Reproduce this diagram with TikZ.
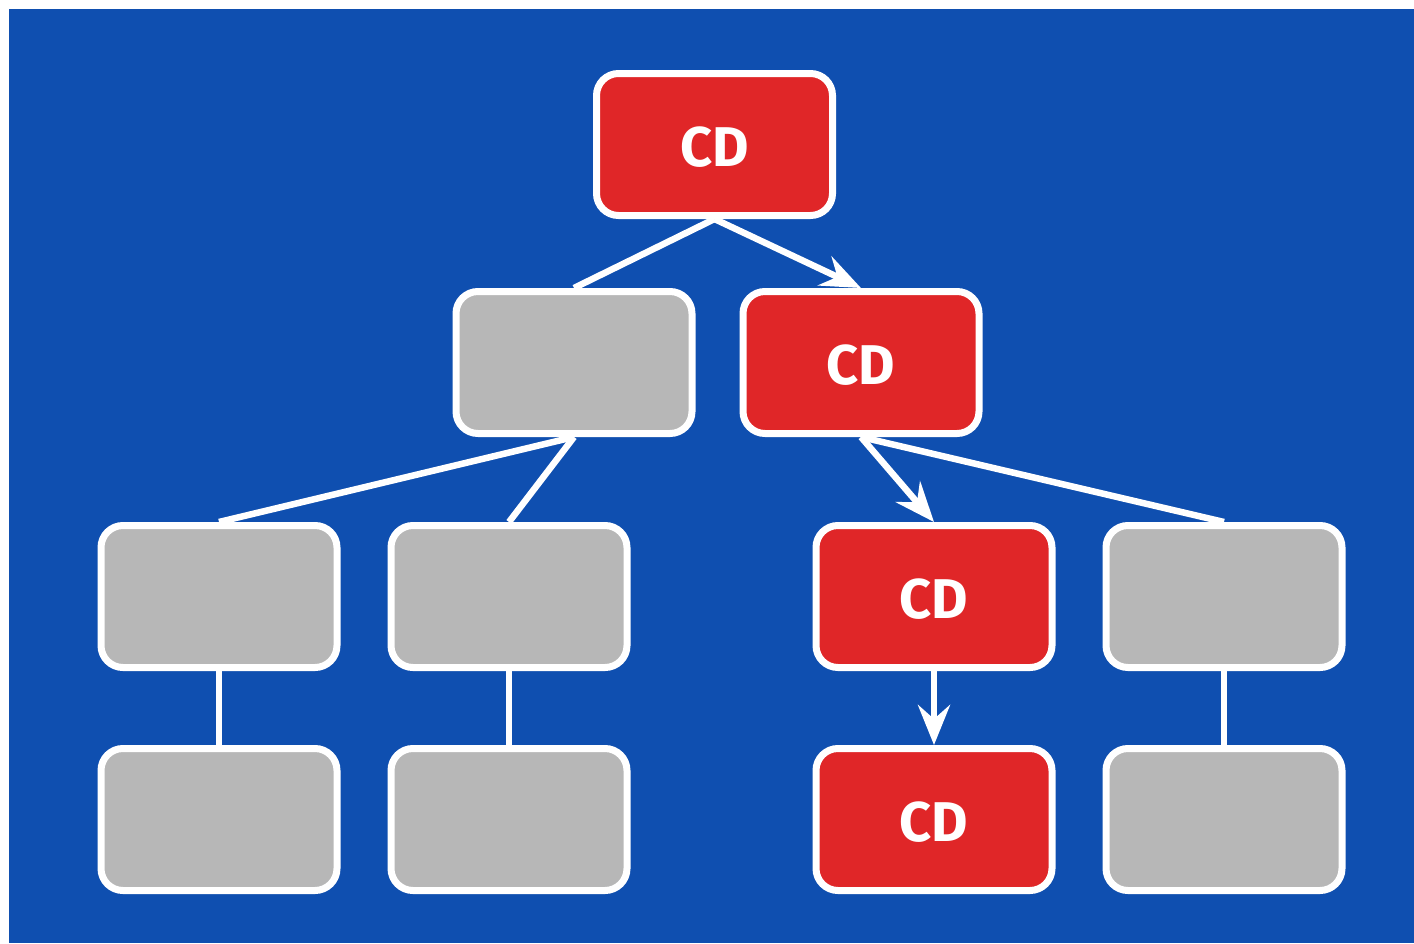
\documentclass[tikz,border=0pt]{standalone}
\usepackage{fontspec}
\setmainfont{Fira Sans}
\usetikzlibrary{arrows.meta}
\definecolor{bgblue}{HTML}{0F4FB0}
\definecolor{cdred}{HTML}{E02628}
\definecolor{boxgray}{HTML}{B7B7B7}
\newcommand{\cdlabel}{\raisebox{-21.5pt}[0pt][0pt]{CD}}
\tikzset{
  box/.style={draw=white, line width=7pt, rounded corners=22pt, minimum width=236pt, minimum height=142pt, inner sep=0pt},
  redbox/.style={box, fill=cdred, text=white, font=\fontsize{56}{60}\selectfont\bfseries},
  graybox/.style={box, fill=boxgray},
  conn/.style={draw=white, line width=6.5pt},
  arr/.style={conn, -{Stealth[length=40pt, width=32pt, inset=14pt]}}
}
\begin{document}
\begin{tikzpicture}[x=1pt, y=-1pt]
\useasboundingbox (0,0) rectangle (1414,943);
\fill[white] (0,0) rectangle (1414,943);
\fill[bgblue] (9,9) rectangle (1414,943);
\node[redbox] (top) at (714.5,144.5) {\cdlabel};
\node[graybox] (g2) at (574,362.5) {};
\node[redbox] (r2) at (861,362.5) {\cdlabel};
\node[graybox] (g3a) at (219,596.5) {};
\node[graybox] (g3b) at (509,596.5) {};
\node[redbox] (r3) at (934,596.5) {\cdlabel};
\node[graybox] (g3d) at (1224,596.5) {};
\node[graybox] (g4a) at (219,819.5) {};
\node[graybox] (g4b) at (509,819.5) {};
\node[redbox] (r4) at (934,819.5) {\cdlabel};
\node[graybox] (g4d) at (1224,819.5) {};
\draw[conn] (top.south) -- (g2.north);
\draw[arr] (top.south) -- (r2.north);
\draw[conn] (g2.south) -- (g3a.north);
\draw[conn] (g2.south) -- (g3b.north);
\draw[arr] (r2.south) -- (r3.north);
\draw[conn] (r2.south) -- (g3d.north);
\draw[conn] (g3a.south) -- (g4a.north);
\draw[conn] (g3b.south) -- (g4b.north);
\draw[arr] (r3.south) -- (r4.north);
\draw[conn] (g3d.south) -- (g4d.north);
\end{tikzpicture}
\end{document}
